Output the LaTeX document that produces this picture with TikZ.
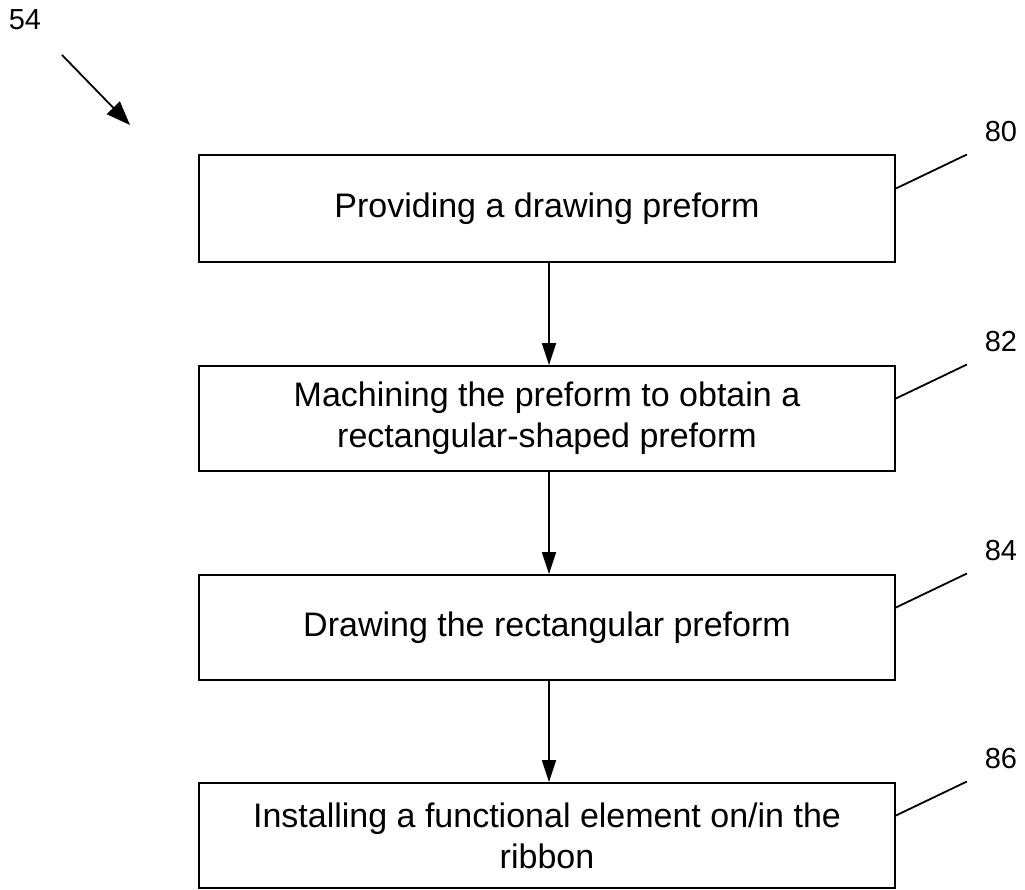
\documentclass[tikz,border=0pt]{standalone}
\usepackage{fontspec}
\setmainfont{Liberation Sans}
\usetikzlibrary{arrows.meta}
\begin{document}
\begin{tikzpicture}[x=1pt,y=-1pt,
  stepbox/.style={draw=black,line width=1.8pt,minimum width=696pt,minimum height=105pt,inner sep=0pt,align=center,font=\fontsize{34}{41}\selectfont},
  refnum/.style={font=\fontsize{29}{31}\selectfont,inner sep=0pt},
  flow/.style={line width=1.8pt,-{Triangle[length=22pt,width=14pt]}},
  leader/.style={line width=1.8pt}]
\useasboundingbox (0,0) rectangle (1025,890);
\node[stepbox,minimum height=107pt] (b1) at (547,208.5) {Providing a drawing preform};
\node[stepbox] (b2) at (547,418.5) {Machining the preform to obtain a\\rectangular-shaped preform};
\node[stepbox] (b3) at (547,627.5) {Drawing the rectangular preform};
\node[stepbox] (b4) at (547,835.5) {Installing a functional element on/in the\\ribbon};
\draw[flow] ([xshift=2pt]b1.south) -- ([xshift=2pt]b2.north);
\draw[flow] ([xshift=2pt]b2.south) -- ([xshift=2pt]b3.north);
\draw[flow] ([xshift=2pt]b3.south) -- ([xshift=2pt]b4.north);
\foreach \b/\n in {b1/80,b2/82,b3/84,b4/86}{
  \coordinate (s\b) at ([yshift=20pt]\b.east);
  \coordinate (e\b) at ([xshift=71pt,yshift=54pt]\b.east);
  \draw[leader] (s\b) -- (e\b);
  \node[refnum] (n\b) at ([xshift=105pt,yshift=77pt]\b.east) {\n};
}
\node[refnum] (n54) at (25,20) {54};
\coordinate (a54s) at (62,55);
\coordinate (a54e) at (130,125);
\draw[line width=1.8pt,-{Triangle[length=24pt,width=18pt]}] (a54s) -- (a54e);
\end{tikzpicture}
\end{document}
